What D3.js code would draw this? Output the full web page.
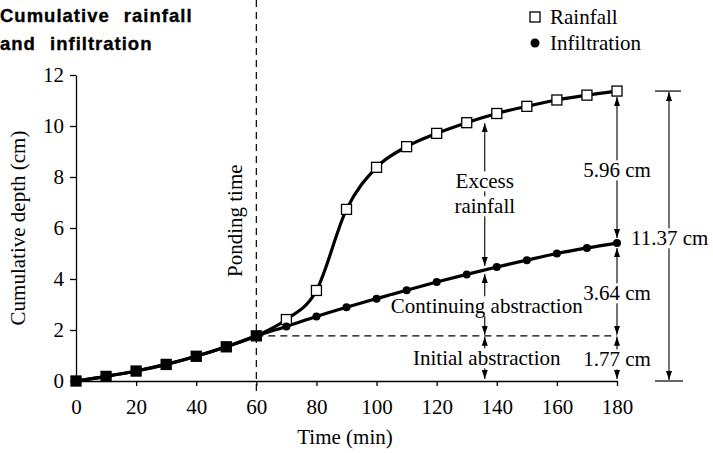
<!DOCTYPE html>
<html><head><meta charset="utf-8">
<script src="https://cdn.jsdelivr.net/npm/d3@7"></script>
<style>body{margin:0;background:#fff} svg{display:block}</style>
</head><body><svg id="c" width="713" height="453"></svg>
<script>
const times = [0,10,20,30,40,50,60,70,80,90,100,110,120,130,140,150,160,170,180];
const rainfall = [0.00,0.18,0.39,0.65,0.97,1.34,1.77,2.41,3.55,6.73,8.38,9.19,9.71,10.13,10.49,10.77,11.02,11.21,11.37];
const infiltration = [0.00,0.18,0.39,0.65,0.97,1.34,1.77,2.14,2.53,2.89,3.23,3.56,3.88,4.18,4.47,4.74,5.00,5.22,5.41];
const xTicks = [0,20,40,60,80,100,120,140,160,180];
const yTicks = [0,2,4,6,8,10,12];
const pondingTime = 60;
const initialAbstraction = 1.77;
const continuingAbstraction = 3.64;
const excessRainfall = 5.96;
const totalRainfall = 11.37;
const annotTime = 136;

const svg = d3.select("#c");
const serif = "'Liberation Serif','Times New Roman',serif";
const FS = 21;
const x = d3.scaleLinear().domain([0,180]).range([76,617]);
const y = d3.scaleLinear().domain([0,12]).range([381,75]);

const defs = svg.append("defs");
defs.append("marker").attr("id","ah").attr("viewBox","0 -4 9 8")
  .attr("refX",9).attr("refY",0).attr("markerWidth",9).attr("markerHeight",8)
  .attr("markerUnits","userSpaceOnUse").attr("orient","auto-start-reverse")
  .append("path").attr("d","M0,-3L9,0L0,3Z").attr("fill","#000");

// Title
const title = svg.append("g").attr("font-family","'Liberation Sans',Arial,sans-serif")
  .attr("font-weight","bold").attr("font-size",18.5).attr("letter-spacing",1.0).attr("word-spacing",8)
  .attr("stroke","#000").attr("stroke-width",0.35);
title.append("text").attr("x",0).attr("y",22).text("Cumulative rainfall");
title.append("text").attr("x",0).attr("y",50).text("and infiltration");

// Legend
svg.append("rect").attr("x",530).attr("y",12).attr("width",10).attr("height",10)
  .attr("fill","#fff").attr("stroke","#000").attr("stroke-width",1.3);
svg.append("circle").attr("cx",535).attr("cy",43).attr("r",4.5).attr("fill","#000");
svg.append("text").attr("x",550).attr("y",24).attr("font-family",serif).attr("font-size",FS).text("Rainfall");
svg.append("text").attr("x",550).attr("y",50).attr("font-family",serif).attr("font-size",FS).text("Infiltration");

// Axes
const ya = svg.append("g").attr("transform","translate(76,0)")
  .call(d3.axisLeft(y).tickValues(yTicks).tickSize(6).tickSizeOuter(0).tickPadding(6));
const xa = svg.append("g").attr("transform","translate(0,381)")
  .call(d3.axisBottom(x).tickValues(xTicks).tickSize(5).tickSizeOuter(0).tickPadding(13));
[ya,xa].forEach(a=>{
  a.selectAll("path,line").attr("stroke","#000").attr("stroke-width",1.3);
  a.selectAll("text").attr("font-family",serif).attr("font-size",FS).attr("fill","#000");
});
svg.append("text").attr("x",345).attr("y",444).attr("text-anchor","middle")
  .attr("font-family",serif).attr("font-size",FS).text("Time (min)");
svg.append("text").attr("transform","translate(25,228) rotate(-90)").attr("text-anchor","middle")
  .attr("font-family",serif).attr("font-size",FS).text("Cumulative depth (cm)");

// Ponding time line
svg.append("line").attr("x1",x(pondingTime)).attr("x2",x(pondingTime)).attr("y1",0).attr("y2",392)
  .attr("stroke","#000").attr("stroke-width",1.2).attr("stroke-dasharray","7,5");
svg.append("text").attr("transform",`translate(${x(pondingTime)-14},277) rotate(-90)`)
  .attr("font-family",serif).attr("font-size",FS).text("Ponding time");
// Initial abstraction level
svg.append("line").attr("x1",x(pondingTime)).attr("x2",x(180)).attr("y1",y(initialAbstraction)).attr("y2",y(initialAbstraction))
  .attr("stroke","#000").attr("stroke-width",1.2).attr("stroke-dasharray","7,5");

// Curves
const line = d3.line().x((d,i)=>x(times[i])).y(d=>y(d)).curve(d3.curveMonotoneX);
svg.append("path").datum(rainfall).attr("d",line).attr("fill","none").attr("stroke","#000").attr("stroke-width",3.2);
svg.append("path").datum(infiltration).attr("d",line).attr("fill","none").attr("stroke","#000").attr("stroke-width",3.2);
svg.selectAll("rect.rf").data(rainfall).enter().append("rect").attr("class","rf")
  .attr("x",(d,i)=>x(times[i])-5).attr("y",d=>y(d)-5).attr("width",10).attr("height",10)
  .attr("fill",(d,i)=>times[i]<=pondingTime?"#000":"#fff").attr("stroke","#000").attr("stroke-width",1.3);
svg.selectAll("circle.inf").data(infiltration).enter().append("circle").attr("class","inf")
  .attr("cx",(d,i)=>x(times[i])).attr("cy",d=>y(d)).attr("r",4).attr("fill","#000");

// annotation helpers
function interp(arr,t){ const i=Math.floor(t/10); const f=(t-times[i])/10; return arr[i]+(arr[i+1]-arr[i])*f; }
function arrow(x0,ya0,yb0){
  svg.append("line").attr("x1",x0).attr("x2",x0).attr("y1",ya0).attr("y2",yb0)
    .attr("stroke","#000").attr("stroke-width",1.1)
    .attr("marker-start","url(#ah)").attr("marker-end","url(#ah)");
}
function label(xc,yc,txt,anchor){
  const t = svg.append("text").attr("x",xc).attr("y",yc).attr("dy","0.35em")
    .attr("text-anchor",anchor||"middle").attr("font-family",serif).attr("font-size",FS).text(txt);
  const b = t.node().getBBox();
  svg.insert("rect", ()=>t.node()).attr("x",b.x-1).attr("y",b.y+2).attr("width",b.width+2).attr("height",b.height-4).attr("fill","#fff");
  return t;
}

const ax = x(annotTime);
const rA = interp(rainfall,annotTime), iA = interp(infiltration,annotTime);
arrow(ax, y(rA)+6, y(iA)-4);
label(ax, 181, "Excess");
label(ax, 206, "rainfall");
arrow(ax, y(iA)+4, y(initialAbstraction)-1);
label(ax+2, 306, "Continuing abstraction");
arrow(ax, y(initialAbstraction)+1, y(0)-2);
label(ax+2, 358, "Initial abstraction");

const ex = x(180);
arrow(ex, y(totalRainfall)+6, y(totalRainfall-excessRainfall)-5);
label(ex, 170, excessRainfall.toFixed(2)+" cm");
arrow(ex, y(initialAbstraction+continuingAbstraction)+5, y(initialAbstraction)-1);
label(ex, 293, continuingAbstraction.toFixed(2)+" cm");
arrow(ex, y(initialAbstraction)+1, y(0)-2);
label(ex, 359, initialAbstraction.toFixed(2)+" cm");

const tx = 669;
svg.append("line").attr("x1",655).attr("x2",681).attr("y1",y(totalRainfall)).attr("y2",y(totalRainfall)).attr("stroke","#000").attr("stroke-width",1.2);
svg.append("line").attr("x1",655).attr("x2",683).attr("y1",y(0)).attr("y2",y(0)).attr("stroke","#000").attr("stroke-width",1.2);
arrow(tx, y(totalRainfall)+1, y(0)-1);
label(631, 238, totalRainfall.toFixed(2)+" cm", "start");
</script></body></html>
